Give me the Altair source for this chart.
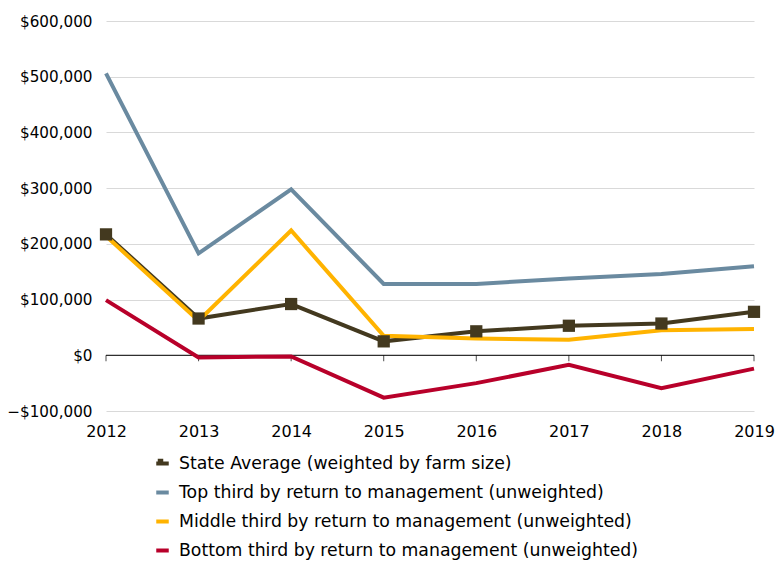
import altair as alt
import pandas as pd

years = [2012, 2013, 2014, 2015, 2016, 2017, 2018, 2019]
series_names = [
    "State Average (weighted by farm size)",
    "Top third by return to management (unweighted)",
    "Middle third by return to management (unweighted)",
    "Bottom third by return to management (unweighted)",
]
state_avg = [217000, 66000, 92000, 25000, 43000, 53000, 57000, 78000]
top_third = [506000, 183000, 298000, 128000, 128000, 138000, 146000, 160000]
middle_third = [214000, 62000, 224000, 35000, 30000, 28000, 45000, 47000]
bottom_third = [99000, -4000, -2000, -76000, -50000, -17000, -59000, -24000]
colors = ["#43391f", "#6a8aa0", "#ffb300", "#b8002a"]
y_ticks = [-100000, 0, 100000, 200000, 300000, 400000, 500000, 600000]

rows = []
for name, vals in zip(series_names, [state_avg, top_third, middle_third, bottom_third]):
    for y, v in zip(years, vals):
        rows.append({"year": y, "series": name, "value": v})
df = pd.DataFrame(rows)
df_state = df[df["series"] == series_names[0]]

FONT = "DejaVu Sans"
LEG_X, LEG_Y = 42, 428

xscale = alt.Scale(domain=[2012, 2019], nice=False, zero=False)
yscale = alt.Scale(domain=[-100000, 600000], nice=False)

x_axis = alt.Axis(
    values=years, format="d", title=None, domain=False, ticks=False, grid=False,
    labelFontSize=16, labelPadding=12, labelColor="#000000", labelFont=FONT,
    labelFlush=False, labelBound=False, labelOverlap=False,
)
y_axis = alt.Axis(
    values=y_ticks, format="$,d", title=None, domain=False, ticks=False,
    grid=True, gridColor="#d9d9d9", gridWidth=1.2,
    labelFontSize=15.2, labelPadding=14, labelColor="#000000", labelFont=FONT,
)

lines = alt.Chart(df).mark_line(strokeWidth=4, strokeJoin="miter").encode(
    x=alt.X("year:Q", scale=xscale, axis=x_axis),
    y=alt.Y("value:Q", scale=yscale, axis=y_axis),
    color=alt.Color(
        "series:N",
        scale=alt.Scale(domain=series_names, range=colors),
        sort=series_names,
        legend=alt.Legend(
            title=None, orient="none", legendX=LEG_X, legendY=LEG_Y, direction="vertical",
            columns=1, symbolType="M-0.5,0H0.5", symbolSize=625, symbolStrokeWidth=4,
            labelFontSize=17.3, labelFont=FONT, labelColor="#000000", rowPadding=6,
            labelOffset=2, labelLimit=700, zindex=1,
        ),
    ),
)

points = alt.Chart(df_state).mark_square(size=150, opacity=1).encode(
    x=alt.X("year:Q", scale=xscale),
    y=alt.Y("value:Q", scale=yscale),
    color=alt.Color(
        "series:N",
        scale=alt.Scale(domain=[series_names[0]], range=[colors[0]]),
        legend=alt.Legend(
            title=None, orient="none", legendX=LEG_X, legendY=LEG_Y, direction="vertical",
            columns=1, symbolType="M-0.22,-0.22H0.22V0.22H-0.22Z", symbolSize=625,
            symbolStrokeWidth=0, symbolOpacity=1,
            labelFontSize=17.3, labelFont=FONT, labelExpr="''", labelOffset=2, zindex=2,
        ),
    ),
)

zero_df = pd.DataFrame({"v": [0]})
zero_rule = alt.Chart(zero_df).mark_rule(color="#000000", strokeWidth=1).encode(
    y=alt.Y("v:Q", scale=yscale),
)
tick_df = pd.DataFrame({"year": years, "v": [0] * len(years)})
ticks = alt.Chart(tick_df).mark_tick(
    color="#000000", orient="vertical", size=6, thickness=1, yOffset=3
).encode(
    x=alt.X("year:Q", scale=xscale),
    y=alt.Y("v:Q", scale=yscale),
)

chart = alt.layer(zero_rule, ticks, lines, points).resolve_scale(
    color="independent"
).properties(
    width=648, height=390,
    autosize=alt.AutoSizeParams(type="none"),
    padding={"left": 98, "top": 13, "right": 22, "bottom": 149},
).configure_view(stroke=None)

chart.save("out.html", embed_options={"renderer": "svg", "actions": False})
